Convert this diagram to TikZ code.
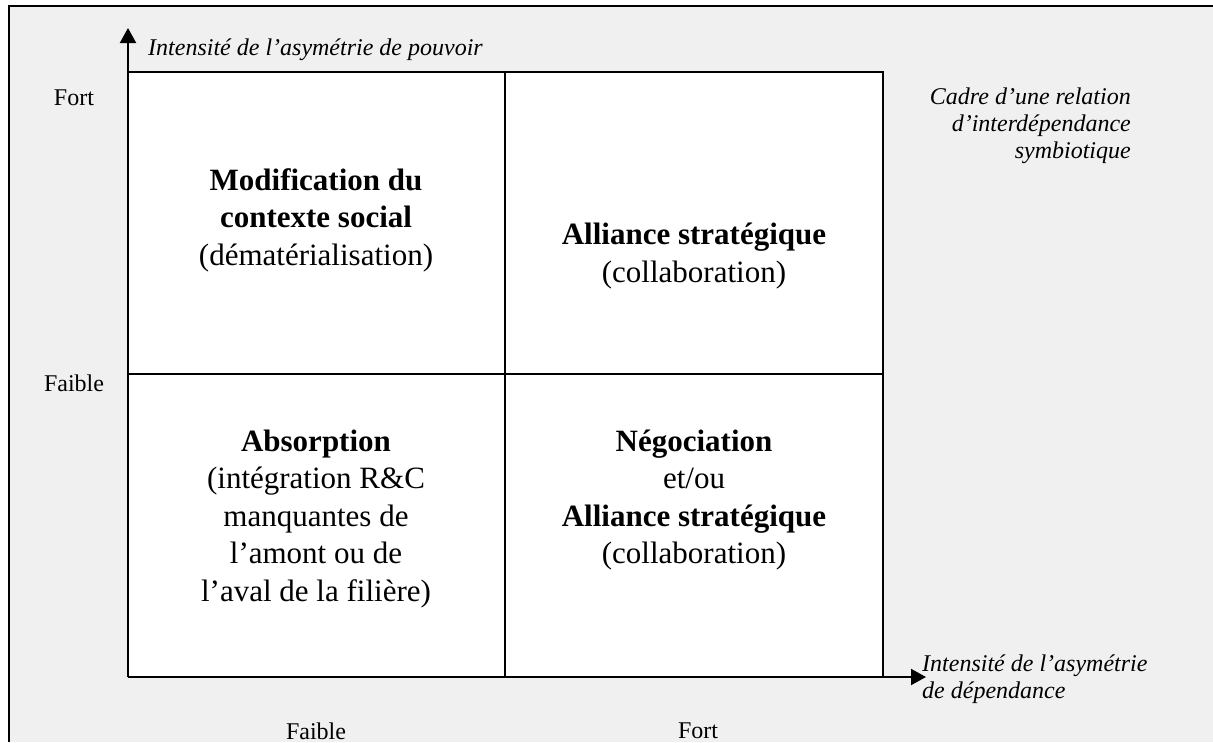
\documentclass[tikz,border=0pt]{standalone}
\usepackage{fontspec}
\setmainfont{Liberation Serif}
\usetikzlibrary{arrows.meta}
\definecolor{bggray}{HTML}{F0F0F0}
\tikzset{
  gridline/.style={line width=2pt, draw=black},
  axisarrow/.style={line width=2pt, -{Triangle[length=15pt,width=16pt]}},
  axislabel/.style={font=\fontsize{24}{27}\selectfont\itshape, inner sep=0pt},
  ticklabel/.style={font=\fontsize{24}{27}\selectfont, inner sep=0pt},
  quadtext/.style={font=\fontsize{31}{37.5}\selectfont, align=center, inner sep=0pt},
}
\begin{document}
\begin{tikzpicture}[x=1pt,y=-1pt]
\useasboundingbox (0,0) rectangle (1213,742);
% outer frame
\fill[bggray] (8.5,6) rectangle (1213,742);
\draw[line width=2pt] (8.5,742) -- (8.5,6) -- (1213,6);
% grid
\coordinate (o) at (128,677);
\coordinate (ytip) at (128,28);
\coordinate (xtip) at (926,677);
\coordinate (tl) at (128,72);
\coordinate (br) at (883,677);
\coordinate (mt) at (505,72);
\coordinate (mb) at (505,677);
\coordinate (ml) at (128,374);
\coordinate (mr) at (883,374);
\fill[white] (tl) rectangle (br);
\draw[gridline] (tl) -- (br |- tl) -- (br);
\draw[gridline] (mt) -- (mb);
\draw[gridline] (ml) -- (mr);
\draw[axisarrow] (o) -- (ytip);
\draw[axisarrow] (o) -- (xtip);
% axis labels
\node[axislabel, anchor=west] (ylab) at (148,50) {Intensité de l’asymétrie de pouvoir};
\node[axislabel, anchor=north west, align=left] (xlab) at (922,655) {Intensité de l’asymétrie\\de dépendance};
\node[axislabel, anchor=north east, align=right] (cadre) at (1131,88) {Cadre d’une relation\\d’interdépendance\\symbiotique};
\node[ticklabel] (yfort) at (74,98) {Fort};
\node[ticklabel] (yfaible) at (74,383) {Faible};
\node[ticklabel] (xfaible) at (316,731) {Faible};
\node[ticklabel] (xfort) at (698,731) {Fort};
% quadrants
\node[quadtext] (q1) at (316,220) {\textbf{Modification du}\\\textbf{contexte social}\\(dématérialisation)};
\node[quadtext] (q2) at (694,256) {\textbf{Alliance stratégique}\\(collaboration)};
\node[quadtext] (q3) at (316,519) {\textbf{Absorption}\\(intégration R\&C\\manquantes de\\l’amont ou de\\l’aval de la filière)};
\node[quadtext] (q4) at (694,500) {\textbf{Négociation}\\et/ou\\\textbf{Alliance stratégique}\\(collaboration)};
\end{tikzpicture}
\end{document}
